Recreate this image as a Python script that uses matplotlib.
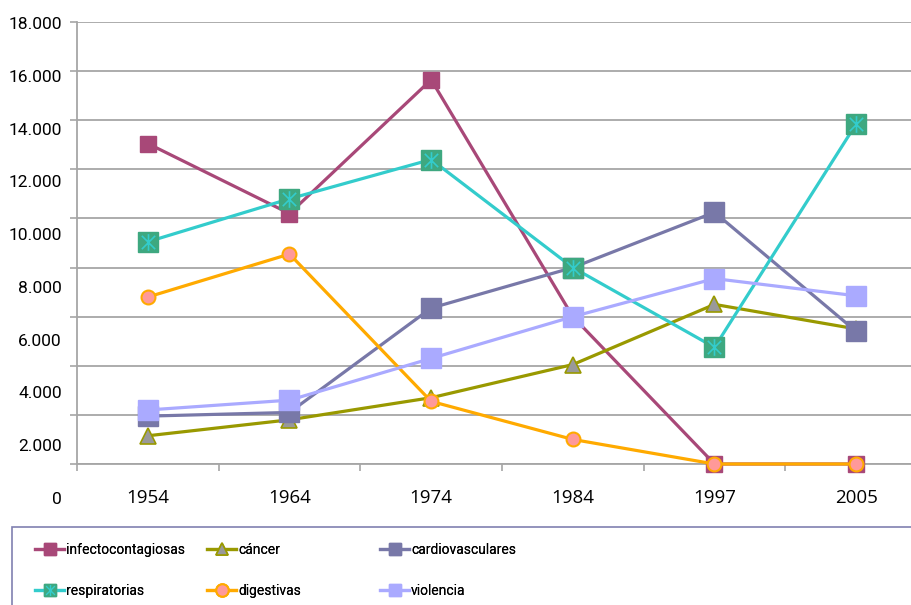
import numpy as np
import matplotlib
matplotlib.use("Agg")
import matplotlib.pyplot as plt
from matplotlib.lines import Line2D
from matplotlib.path import Path
from matplotlib.patches import Rectangle

###########################################################
### ---------------------- DATA ---------------------------
###########################################################

years = ['1954', '1964', '1974', '1984', '1997', '2005']

infectocontagiosas = [13050, 10200, 15650, 6000, 0, 0]
cancer = [1150, 1800, 2700, 4050, 6500, 5500]
cardiovasculares = [1950, 2100, 6350, 8000, 10250, 5400]
respiratorias = [9050, 10800, 12400, 8000, 4750, 13850]
digestivas = [6800, 8550, 2550, 1000, 0, 0]
violencia = [2200, 2600, 4300, 6000, 7550, 6850]

series_names = ['infectocontagiosas', 'cáncer', 'cardiovasculares',
                'respiratorias', 'digestivas', 'violencia']

y_ticks = list(range(0, 18001, 2000))

###########################################################
### ---------------------- STYLE --------------------------
###########################################################

W, H = 912, 605
grid_col = '#A6A6A6'
narrow = ['Roboto', 'DejaVu Sans']

# asterisk marker for respiratorias (vertical bar + X)
star_path = Path([(0, -1), (0, 1), (-0.8, -0.8), (0.8, 0.8), (-0.8, 0.8), (0.8, -0.8)],
                 [Path.MOVETO, Path.LINETO, Path.MOVETO, Path.LINETO, Path.MOVETO, Path.LINETO])

styles = [
    dict(color='#A84878', marker='s', ms=11.5, mfc='#A84878', mec='#A84878'),
    dict(color='#999900', marker='^', ms=12, mfc='#999999', mec='#999900', mew=1.2),
    dict(color='#7878A8', marker='s', ms=15, mfc='#7878A8', mec='#7878A8'),
    dict(color='#33CCCC', marker='s', ms=15, mfc='#3EA880', mec='#3EA880'),
    dict(color='#FFAA00', marker='o', ms=10, mfc='#FF9999', mec='#FFAA00', mew=1.5),
    dict(color='#AAAAFF', marker='s', ms=15, mfc='#AAAAFF', mec='#AAAAFF'),
]

###########################################################
### ---------------------- PLOT ---------------------------
###########################################################

fig = plt.figure(figsize=(W / 100, H / 100), dpi=100)

# main plot area (runs a bit past the right edge, like the original)
left, right = 77 / W, 927 / W
bottom, top = 1 - 464 / H, 1 - 22 / H
ax = fig.add_axes([left, bottom, right - left, top - bottom])

x = np.arange(len(years))
all_series = [infectocontagiosas, cancer, cardiovasculares, respiratorias, digestivas, violencia]

handles = []
for i, (vals, st) in enumerate(zip(all_series, styles)):
    ln, = ax.plot(x, vals, lw=2.3, color=st['color'], marker=st['marker'], ms=st['ms'],
                  mfc=st['mfc'], mec=st['mec'], mew=st.get('mew', 1), zorder=3 + i, clip_on=False)
    h = Line2D([], [], lw=2.3, color=st['color'], marker=st['marker'], ms=9,
               mfc=st['mfc'], mec=st['mec'], mew=st.get('mew', 1))
    if series_names[i] == 'respiratorias':
        ax.plot(x, vals, ls='none', marker=star_path, ms=12, mec='#33CCCC', mfc='none',
                mew=1.2, zorder=3 + i, clip_on=False)
        h = (h, Line2D([], [], ls='none', marker=star_path, ms=8, mec='#33CCCC', mew=1))
    handles.append(h)

ax.set_xlim(-0.5, 5.5)
ax.set_ylim(0, 18000)

# x: tick marks at category borders, labels at centers
ax.set_xticks(np.arange(-0.5, 6, 1))
ax.set_xticklabels([])
ax.set_xticks(x, minor=True)
ax.set_xticklabels(years, minor=True, fontsize=13.5, family=['Open Sans', 'DejaVu Sans'])
ax.tick_params(axis='x', which='major', length=5, width=1.2, color=grid_col, direction='out')
ax.tick_params(axis='x', which='minor', length=0, pad=18)

# y: gridlines + little ticks, labels go on a separate axis
ax.set_yticks(y_ticks)
ax.set_yticklabels([])
ax.tick_params(axis='y', length=5, width=1.2, color=grid_col, direction='out')
ax.grid(axis='y', color=grid_col, lw=1.3, zorder=0)

for s in ['top', 'right']:
    ax.spines[s].set_visible(False)
for s in ['left', 'bottom']:
    ax.spines[s].set_color(grid_col)
    ax.spines[s].set_linewidth(1.3)

# y tick labels (shifted relative to the gridlines, as in the source image)
lab_bottom, lab_top = 1 - 498 / H, 1 - 23 / H
ax_lab = fig.add_axes([left, lab_bottom, 0.01, lab_top - lab_bottom])
ax_lab.set_ylim(0, 18000)
ax_lab.set_yticks(y_ticks)
ax_lab.set_yticklabels([f'{v:,}'.replace(',', '.') for v in y_ticks], fontsize=12.5, family=narrow)
ax_lab.tick_params(axis='y', length=0, pad=10.8)
ax_lab.set_xticks([])
ax_lab.patch.set_visible(False)
for s in ax_lab.spines.values():
    s.set_visible(False)

###########################################################
### ---------------------- LEGEND -------------------------
###########################################################

fig.patches.append(Rectangle((12 / W, -0.1), 1.2, 1 - 527 / H + 0.1, transform=fig.transFigure,
                             fill=False, edgecolor='#8080B0', lw=1.2))

col_x = [35, 207, 380]
for c in range(3):
    idx = [c, c + 3]
    leg = fig.legend([handles[k] for k in idx], [series_names[k] for k in idx],
                     loc='upper left', bbox_to_anchor=(col_x[c] / W, 1 - 543 / H),
                     frameon=False, borderpad=0, borderaxespad=0, handlelength=2.1,
                     handletextpad=0.15, labelspacing=1.95,
                     prop={'family': narrow, 'size': 10})
    fig.add_artist(leg)

plt.savefig('out.png', dpi=100)
